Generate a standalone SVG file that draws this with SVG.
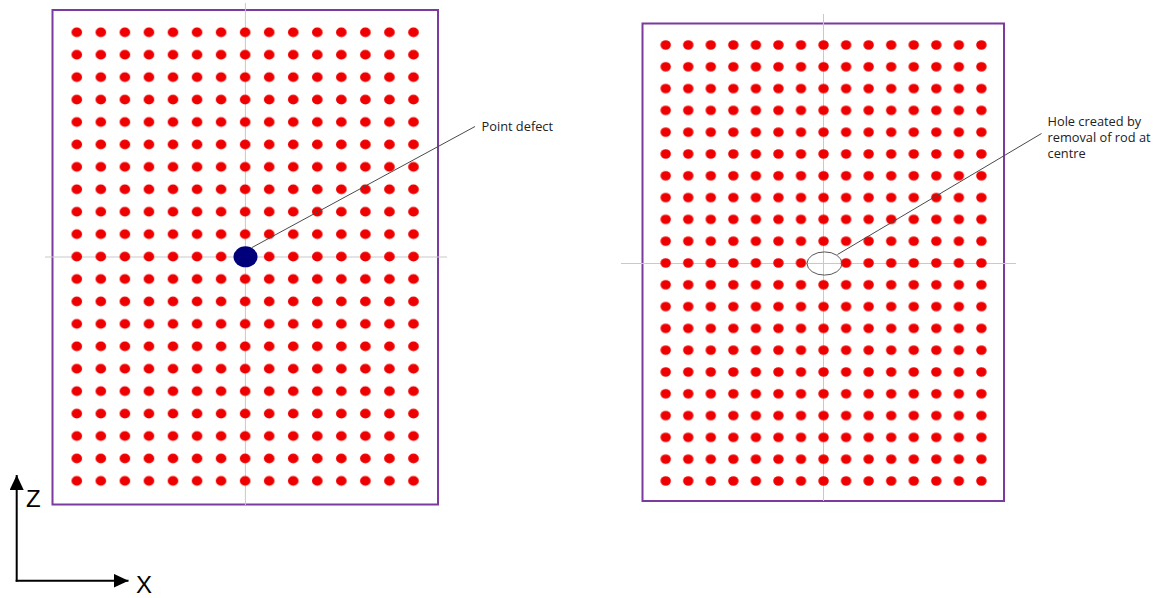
<svg xmlns="http://www.w3.org/2000/svg" width="1153" height="598" viewBox="0 0 1153 598">
  <style>
    .frame { fill: #ffffff; stroke: #7a3a9e; stroke-width: 2; }
    .grid { stroke: #c9c9c9; stroke-width: 1; fill: none; }
    .leader { stroke: #4a4a4a; stroke-width: 1; fill: none; }
    .label { font-family: "Open Sans", "Liberation Sans", sans-serif; font-size: 12.8px; fill: #222222; }
    .axis { stroke: #000000; stroke-width: 2; fill: none; }
    .axislabel { font-family: "Liberation Sans", Arial, sans-serif; font-size: 24px; fill: #000000; }
  </style>
  <defs>
    <pattern id="dotsL" patternUnits="userSpaceOnUse" x="64.775" y="21.085" width="24.05" height="22.43">
      <ellipse cx="12.025" cy="11.215" rx="5.3" ry="4.9" fill="#ee0000"/>
    </pattern>
    <pattern id="dotsR" patternUnits="userSpaceOnUse" x="654.425" y="34.1" width="22.55" height="21.8">
      <ellipse cx="11.275" cy="10.9" rx="5.2" ry="4.8" fill="#ee0000"/>
    </pattern>
    <clipPath id="holeClip">
      <path clip-rule="evenodd" d="M640 20 H1010 V505 H640 Z M812 252 V274 H835 V252 Z"/>
    </clipPath>
    <marker id="arrow" viewBox="0 0 15 14" refX="15" refY="7" markerWidth="15" markerHeight="14" markerUnits="userSpaceOnUse" orient="auto">
      <path d="M0 0 L15 7 L0 14 Z" fill="#000000"/>
    </marker>
  </defs>

  <g id="panel-left">
    <rect class="frame" x="52.5" y="10" width="385.5" height="494.5"/>
    <line class="grid" x1="245.4" y1="3" x2="245.4" y2="505"/>
    <line class="grid" x1="45" y1="257" x2="447" y2="257"/>
    <rect x="64.775" y="21.085" width="360.75" height="471.03" fill="url(#dotsL)"/>
  </g>

  <g id="point-defect">
    <ellipse cx="245.5" cy="256.8" rx="12" ry="10.5" fill="#00007a"/>
  </g>

  <g id="panel-right">
    <rect class="frame" x="642.5" y="23.5" width="361.5" height="477.5"/>
    <line class="grid" x1="823.5" y1="14" x2="823.5" y2="501"/>
    <line class="grid" x1="621" y1="263.5" x2="1016" y2="263.5"/>
    <rect x="654.425" y="34.1" width="338.25" height="457.8" fill="url(#dotsR)" clip-path="url(#holeClip)"/>
  </g>

  <g id="hole">
    <ellipse cx="824.5" cy="263.5" rx="17.5" ry="11.6" fill="none" stroke="#555555" stroke-width="1"/>
  </g>

  <g id="connectors">
    <line class="leader" x1="252" y1="247.5" x2="475" y2="126.5"/>
    <line class="leader" x1="837.5" y1="254.5" x2="1041.5" y2="133.5"/>
  </g>

  <g id="label-point-defect">
    <text class="label" x="481.5" y="130.7">Point defect</text>
  </g>

  <g id="label-hole">
    <text class="label" x="1047.5" y="125.5">Hole created by</text>
    <text class="label" x="1047.5" y="141.5">removal of rod at</text>
    <text class="label" x="1047.5" y="157.5">centre</text>
  </g>

  <g id="axes">
    <line class="axis" x1="16.7" y1="581.7" x2="16.7" y2="475" marker-end="url(#arrow)"/>
    <line class="axis" x1="15.7" y1="580.7" x2="128.5" y2="580.7" marker-end="url(#arrow)"/>
    <text class="axislabel" x="26" y="507.3">Z</text>
    <text class="axislabel" x="136" y="592.5">X</text>
  </g>
</svg>
